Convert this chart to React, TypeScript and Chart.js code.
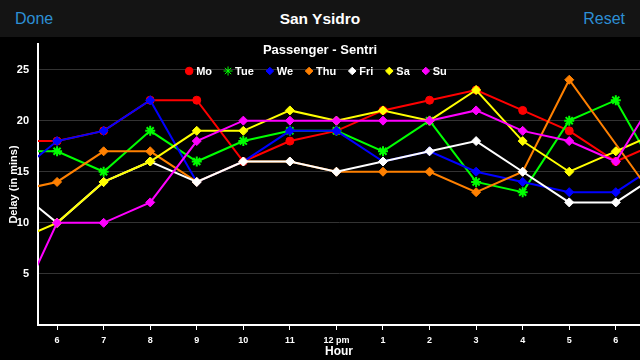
import React, { useEffect, useRef } from 'react';
import { Chart, registerables } from 'chart.js';
import { drawPoint } from 'chart.js/helpers';

Chart.register(...registerables);

const screenTitle = 'San Ysidro';
const leftButton = 'Done';
const rightButton = 'Reset';
const chartTitle = 'Passenger - Sentri';
const xTitle = 'Hour';
const yTitle = 'Delay (in mins)';

// hours of day (5 = 5 am ... 19 = 7 pm); 5 and 19 lie just outside the visible range
const hours = [5, 6, 7, 8, 9, 10, 11, 12, 13, 14, 15, 16, 17, 18, 19];
const tickHours = [6, 7, 8, 9, 10, 11, 12, 13, 14, 15, 16, 17, 18];
const tickLabels = ['6', '7', '8', '9', '10', '11', '12 pm', '1', '2', '3', '4', '5', '6'];
const yTicks = [5, 10, 15, 20, 25];

const dayNames = ['Mo', 'Tue', 'We', 'Thu', 'Fri', 'Sa', 'Su'];
const dayColors = ['#ff0000', '#00ff00', '#0000ff', '#ff8000', '#ffffff', '#ffff00', '#ff00ff'];
const dayMarkers = ['circle', 'star', 'rectRot', 'rectRot', 'rectRot', 'rectRot', 'rectRot'];

const mo = [18, 18, 19, 22, 22, 16, 18, 19, 21, 22, 23, 21, 19, 16, 18];
const tue = [17, 17, 15, 19, 16, 18, 19, 19, 17, 20, 14, 13, 20, 22, 14];
const we = [14.3, 18, 19, 22, 14, 16, 19, 19, 16, 17, 15, 14, 13, 13, 16];
const thu = [13, 14, 17, 17, 14, 16, 16, 15, 15, 15, 13, 15, 24, null, 11.4];
const fri = [13.7, 10, 14, 16, 14, 16, 16, 15, 16, 17, 18, 15, 12, 12, 15];
const sa = [8, 10, 14, 16, 19, 19, 21, 20, 21, 20, 23, 18, 15, 17, 19];
const su = [0.2, 10, 10, 12, 18, 20, 20, 20, 20, 20, 21, 19, 18, 16, 23.4];

const series = [mo, tue, we, thu, fri, sa, su];

const FONT = '"Liberation Sans", Arial, Helvetica, sans-serif';

const overlayPlugin = {
  id: 'overlayTitleLegend',
  afterDraw(chart: any) {
    const ctx = chart.ctx as CanvasRenderingContext2D;
    ctx.save();
    ctx.fillStyle = '#ffffff';
    ctx.textBaseline = 'middle';
    ctx.textAlign = 'center';
    ctx.font = `bold 13px ${FONT}`;
    ctx.fillText(chartTitle, chart.width / 2, 50.5);

    ctx.font = `bold 11px ${FONT}`;
    ctx.textAlign = 'left';
    const markerSpace = 11;
    const gap = 12;
    const items = chart.data.datasets.map((ds: any) => ({
      ds,
      w: ctx.measureText(ds.label).width,
    }));
    const total =
      items.reduce((s: number, it: any) => s + markerSpace + it.w, 0) + gap * (items.length - 1);
    let x = chart.width / 2 - total / 2 - 4;
    const y = 71;
    for (const it of items) {
      const ds = it.ds;
      ctx.fillStyle = ds.borderColor;
      ctx.strokeStyle = ds.borderColor;
      ctx.lineWidth = 1;
      drawPoint(
        ctx,
        {
          pointStyle: ds.pointStyle,
          rotation: 0,
          radius: ds.pointStyle === 'star' ? 4.5 : 3.8,
          borderWidth: ds.pointStyle === 'star' ? 1.5 : 1,
        } as any,
        x + 4,
        y
      );
      ctx.fillStyle = '#ffffff';
      ctx.fillText(ds.label, x + markerSpace, y + 0.5);
      x += markerSpace + it.w + gap;
    }
    ctx.restore();
  },
};

function App() {
  const canvasRef = useRef<HTMLCanvasElement | null>(null);

  useEffect(() => {
    const canvas = canvasRef.current;
    if (!canvas) return;
    const datasets = dayNames.map((name, i) => ({
      label: name,
      data: hours.map((h, j) => ({ x: h, y: series[i][j] })),
      borderColor: dayColors[i],
      backgroundColor: dayColors[i],
      pointBackgroundColor: dayColors[i],
      pointBorderColor: dayColors[i],
      pointStyle: dayMarkers[i],
      pointRadius: dayMarkers[i] === 'star' ? 5 : dayMarkers[i] === 'circle' ? 4 : 4.5,
      pointBorderWidth: dayMarkers[i] === 'star' ? 2 : 1,
      borderWidth: 2,
      tension: 0,
      spanGaps: true,
      order: dayNames.length - i,
    }));

    const chart = new Chart(canvas, {
      type: 'line',
      data: { datasets },
      plugins: [overlayPlugin],
      options: {
        responsive: false,
        animation: false,
        layout: { autoPadding: false, padding: { top: 44, left: 0, right: 0, bottom: 0 } },
        plugins: {
          legend: { display: false },
          title: { display: false },
          tooltip: { enabled: false },
        },
        scales: {
          x: {
            type: 'linear',
            min: 5.59,
            max: 18.52,
            afterBuildTicks: (scale: any) => {
              scale.ticks = tickHours.map((v) => ({ value: v }));
            },
            afterFit: (scale: any) => {
              scale.height = 35;
              scale.paddingLeft = 0;
              scale.paddingRight = 0;
            },
            grid: {
              drawOnChartArea: false,
              drawTicks: true,
              tickLength: 5,
              tickWidth: 1,
              tickColor: '#ffffff',
            },
            border: { display: true, color: '#ffffff', width: 2 },
            ticks: {
              color: '#ffffff',
              font: { family: FONT, size: 9, weight: 'bold' },
              padding: 5,
              maxRotation: 0,
              autoSkip: false,
              callback: (value: any) => {
                const k = tickHours.indexOf(Number(value));
                return k >= 0 ? tickLabels[k] : '';
              },
            },
            title: {
              display: true,
              text: xTitle,
              color: '#ffffff',
              font: { family: FONT, size: 12, weight: 'bold' },
              padding: { top: 0, bottom: 1 },
            },
          },
          y: {
            type: 'linear',
            min: 0,
            max: 27.5,
            afterBuildTicks: (scale: any) => {
              scale.ticks = yTicks.map((v) => ({ value: v }));
            },
            afterFit: (scale: any) => {
              scale.width = 38;
              scale.paddingTop = 0;
              scale.paddingBottom = 0;
            },
            grid: {
              color: '#333333',
              lineWidth: 1,
              drawTicks: false,
            },
            border: { display: true, color: '#ffffff', width: 2 },
            ticks: {
              color: '#ffffff',
              font: { family: FONT, size: 11, weight: 'bold' },
              padding: 9,
            },
            title: {
              display: true,
              text: yTitle,
              color: '#ffffff',
              font: { family: FONT, size: 11, weight: 'bold' },
              padding: { top: 7, bottom: 0 },
            },
          },
        },
      } as any,
    });
    return () => chart.destroy();
  }, []);

  return (
    <div
      style={{
        position: 'fixed',
        left: 0,
        top: 0,
        width: 640,
        height: 360,
        background: '#000000',
        overflow: 'hidden',
        fontFamily: FONT,
      }}
    >
      <canvas
        ref={canvasRef}
        width={640}
        height={360}
        style={{ position: 'absolute', left: 0, top: 0, width: 640, height: 360 }}
      />
      <div
        style={{
          position: 'absolute',
          left: 0,
          top: 0,
          width: 640,
          height: 37,
          background: '#141414',
          zIndex: 2,
        }}
      >
        <span
          style={{
            position: 'absolute',
            left: 15,
            top: 0,
            lineHeight: '37px',
            fontSize: 16,
            color: '#2d8fd5',
          }}
        >
          {leftButton}
        </span>
        <span
          style={{
            position: 'absolute',
            left: 0,
            width: 640,
            top: 0,
            lineHeight: '37px',
            fontSize: 15.5,
            fontWeight: 'bold',
            color: '#ffffff',
            textAlign: 'center',
          }}
        >
          {screenTitle}
        </span>
        <span
          style={{
            position: 'absolute',
            right: 15,
            top: 0,
            lineHeight: '37px',
            fontSize: 16,
            color: '#2d8fd5',
          }}
        >
          {rightButton}
        </span>
      </div>
    </div>
  );
}

export default App;
